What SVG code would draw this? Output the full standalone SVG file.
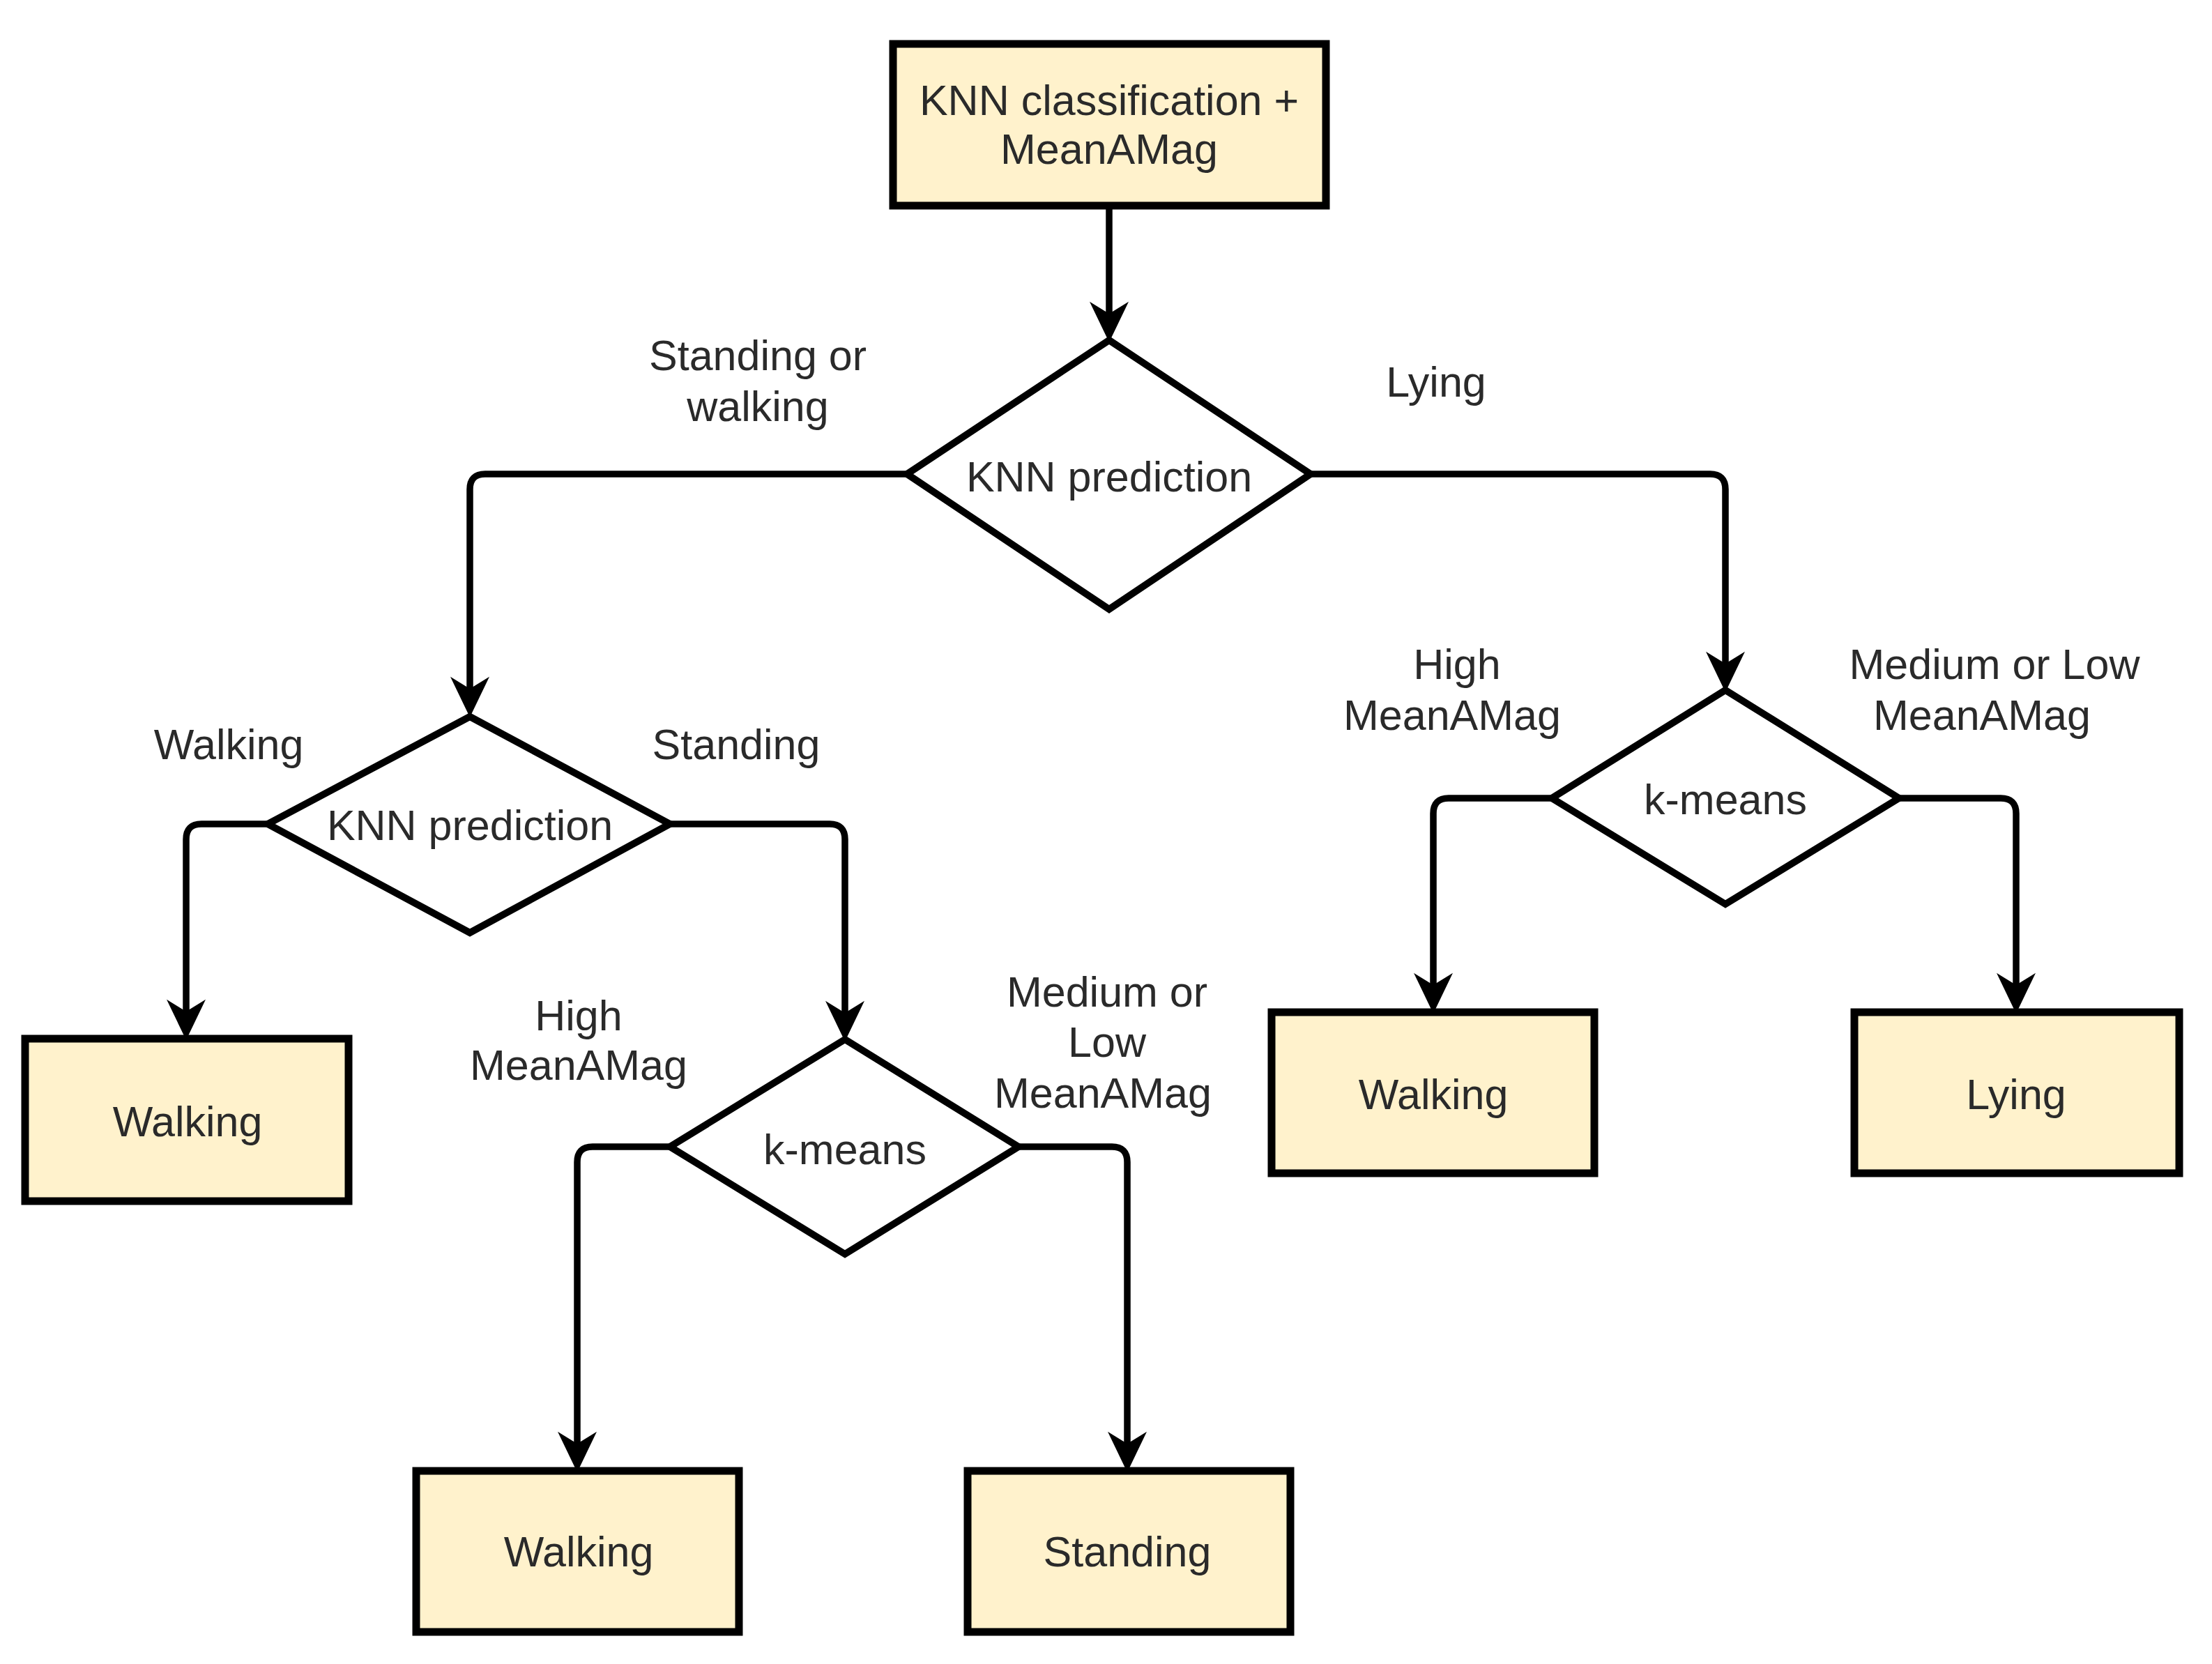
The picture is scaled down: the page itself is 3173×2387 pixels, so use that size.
<svg xmlns="http://www.w3.org/2000/svg" width="3173" height="2387" viewBox="0 0 3173 2387">
<style>
.box{fill:#FFF2CC;stroke:#000;stroke-width:11}
.dia{fill:#fff;stroke:#000;stroke-width:10;stroke-linejoin:miter}
.con{fill:none;stroke:#000;stroke-width:9.5}
text{font-family:"Liberation Sans",Arial,sans-serif;font-size:61px;fill:#2a2a2a;text-anchor:middle}
</style>
<defs>
<marker id="arr" markerUnits="userSpaceOnUse" markerWidth="60" markerHeight="56" viewBox="0 0 54 52" refX="16" refY="26" orient="auto">
<path d="M54 26 L0 0 L16 26 L0 52 Z" fill="#000"/>
</marker>
</defs>
<rect width="3173" height="2387" fill="#fff"/>
<g id="connectors">
<path class="con" d="M1591 295 V450" marker-end="url(#arr)"/>
<path class="con" d="M1301 680 H696 Q674 680 674 702 V988" marker-end="url(#arr)"/>
<path class="con" d="M1880 680 H2453 Q2475 680 2475 702 V952" marker-end="url(#arr)"/>
<path class="con" d="M384 1182 H289 Q267 1182 267 1204 V1451" marker-end="url(#arr)"/>
<path class="con" d="M961 1182 H1190 Q1212 1182 1212 1204 V1453" marker-end="url(#arr)"/>
<path class="con" d="M961 1645 H850 Q828 1645 828 1667 V2071" marker-end="url(#arr)"/>
<path class="con" d="M1461 1645 H1595 Q1617 1645 1617 1667 V2071" marker-end="url(#arr)"/>
<path class="con" d="M2226 1145 H2078 Q2056 1145 2056 1167 V1413" marker-end="url(#arr)"/>
<path class="con" d="M2724 1145 H2870 Q2892 1145 2892 1167 V1413" marker-end="url(#arr)"/>
</g>
<g id="labels">
<text x="1087" y="531">Standing or</text>
<text x="1087" y="604">walking</text>
<text x="2060" y="569">Lying</text>
<text x="328" y="1089">Walking</text>
<text x="1056" y="1089">Standing</text>
<text x="830" y="1478">High</text>
<text x="830" y="1549">MeanAMag</text>
<text x="1588" y="1444">Medium or</text>
<text x="1588" y="1516">Low</text>
<text x="1582" y="1589">MeanAMag</text>
<text x="2090" y="974">High</text>
<text x="2083" y="1047">MeanAMag</text>
<text x="2861" y="974">Medium or Low</text>
<text x="2843" y="1047">MeanAMag</text>
</g>
<g id="start">
<rect class="box" x="1281" y="63" width="621" height="232"/>
<text x="1591" y="165">KNN classification +</text>
<text x="1591" y="235">MeanAMag</text>
</g>
<g id="knn1">
<polygon class="dia" points="1591,488 1880,680 1591,874 1301,680"/>
<text x="1591" y="705">KNN prediction</text>
</g>
<g id="knn2">
<polygon class="dia" points="674,1028 961,1182 674,1338 384,1182"/>
<text x="674" y="1205">KNN prediction</text>
</g>
<g id="walking1">
<rect class="box" x="36" y="1490" width="464" height="233"/>
<text x="269" y="1630">Walking</text>
</g>
<g id="kmeans1">
<polygon class="dia" points="1212,1491 1461,1645 1212,1799 961,1645"/>
<text x="1212" y="1670">k-means</text>
</g>
<g id="walking2">
<rect class="box" x="597" y="2110" width="463" height="231"/>
<text x="830" y="2247">Walking</text>
</g>
<g id="standing">
<rect class="box" x="1388" y="2110" width="463" height="231"/>
<text x="1617" y="2247">Standing</text>
</g>
<g id="kmeans2">
<polygon class="dia" points="2475,990 2724,1145 2475,1297 2226,1145"/>
<text x="2475" y="1168">k-means</text>
</g>
<g id="walking3">
<rect class="box" x="1824" y="1452" width="463" height="231"/>
<text x="2056" y="1591">Walking</text>
</g>
<g id="lying">
<rect class="box" x="2660" y="1452" width="466" height="231"/>
<text x="2892" y="1591">Lying</text>
</g>
</svg>
